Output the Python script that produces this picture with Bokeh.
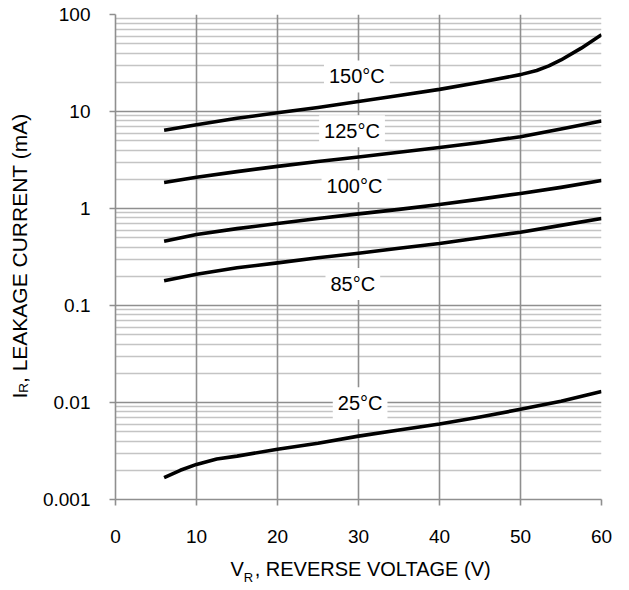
import math
from bokeh.plotting import figure
from bokeh.models import FixedTicker, Grid, Label, LinearAxis, LogAxis
from bokeh.embed import file_html
from bokeh.resources import INLINE

# ---- data ----
x_150 = [6, 10, 15, 20, 25, 30, 35, 40, 45, 50, 52, 53.5, 55, 57.5, 60]
y_150 = [6.4, 7.3, 8.5, 9.7, 11.0, 12.7, 14.6, 16.9, 20.0, 24.0, 26.5, 29.5, 34.0, 45.0, 62.0]

x_125 = [6, 10, 15, 20, 25, 30, 35, 40, 45, 50, 55, 60]
y_125 = [1.85, 2.1, 2.4, 2.72, 3.05, 3.4, 3.8, 4.25, 4.8, 5.5, 6.6, 8.0]

x_100 = [6, 10, 15, 20, 25, 30, 35, 40, 45, 50, 55, 60]
y_100 = [0.46, 0.54, 0.62, 0.70, 0.79, 0.88, 0.98, 1.10, 1.25, 1.43, 1.65, 1.94]

x_85 = [6, 10, 15, 20, 25, 30, 35, 40, 45, 50, 55, 60]
y_85 = [0.18, 0.21, 0.245, 0.275, 0.31, 0.345, 0.39, 0.435, 0.50, 0.57, 0.67, 0.79]

x_25 = [6, 8, 10, 12.5, 15, 20, 25, 30, 35, 40, 45, 50, 55, 60]
y_25 = [0.00168, 0.0020, 0.0023, 0.00262, 0.0028, 0.0033, 0.0038, 0.0045, 0.0052, 0.0060, 0.0071, 0.0085, 0.0103, 0.013]

curve_labels = ["150°C", "125°C", "100°C", "85°C", "25°C"]
label_x = [29.8, 29.2, 29.5, 29.3, 30.2]
label_y = [23.0, 6.26, 1.70, 0.167, 0.0098]

x_ticks = [0, 10, 20, 30, 40, 50, 60]
y_ticks = [0.001, 0.01, 0.1, 1, 10, 100]
y_tick_labels = ["0.001", "0.01", "0.1", "1", "10", "100"]

x_title_main = "V"
x_title_sub = "R"
x_title_rest = ", REVERSE VOLTAGE (V)"
y_title_main = "I"
y_title_sub = "R"
y_title_rest = ", LEAKAGE CURRENT (mA)"

FONT = "Liberation Sans"
MAJOR = "#8f8f8f"
MINOR = "#c4c4c4"

# frame geometry (page pixels)
FL, FR, FT, FB = 115, 601, 14, 499
W, H = 621, 590
p = figure(width=W, height=H, output_backend="svg", toolbar_location=None,
           x_range=(0, 60), y_range=(0.001, 100), y_axis_type="log",
           min_border_left=FL, min_border_right=W - FR, min_border_top=FT, min_border_bottom=H - FB)
p.outline_line_color = None
p.background_fill_color = "white"


def px_to_x(px):
    return round((px - FL) / (FR - FL) * 60.0, 3)


def py_to_y(py):
    return float("%.4g" % (10 ** ((FB - py) / (FB - FT) * 5.0 - 3.0)))


# grids
p.xgrid.visible = False
p.ygrid.visible = False
minor_vals = [d * k for d in y_ticks[:-1] for k in range(2, 10)]
p.add_layout(Grid(dimension=1, ticker=FixedTicker(ticks=minor_vals),
                  grid_line_color=MINOR, grid_line_width=1.6))
p.add_layout(Grid(dimension=1, ticker=FixedTicker(ticks=y_ticks),
                  grid_line_color=MAJOR, grid_line_width=1.6))
p.add_layout(Grid(dimension=0, ticker=FixedTicker(ticks=x_ticks),
                  grid_line_color=MAJOR, grid_line_width=1.6))

# axes
for ax in (p.xaxis[0], p.yaxis[0]):
    ax.axis_line_color = MAJOR
    ax.axis_line_width = 1.6
    ax.major_tick_line_color = MAJOR
    ax.major_tick_line_width = 1.6
    ax.major_tick_out = 6
    ax.major_tick_in = 0
    ax.minor_tick_line_color = None
    ax.major_label_text_font = FONT
    ax.major_label_text_font_size = "19px"
    ax.major_label_text_color = "black"
p.xaxis.ticker = FixedTicker(ticks=x_ticks)
p.xaxis.major_label_standoff = 24
p.yaxis.ticker = FixedTicker(ticks=y_ticks)
p.yaxis.major_label_overrides = {v: s for v, s in zip(y_ticks, y_tick_labels)}
p.yaxis.major_label_standoff = 19

# curves
for xs, ys in [(x_150, y_150), (x_125, y_125), (x_100, y_100), (x_85, y_85), (x_25, y_25)]:
    p.line(xs, ys, line_color="black", line_width=3.6, line_join="round", line_cap="butt")

# curve labels with white boxes
for t, lx, ly in zip(curve_labels, label_x, label_y):
    p.add_layout(Label(x=lx, y=ly, text=t, text_align="center", text_baseline="middle",
                       text_font=FONT, text_font_size="20px", text_color="black",
                       background_fill_color="white", padding=5))


# axis titles with a subscript R, drawn as label-only axes (text outside the frame)
def title_axis(cls, side, ticks, texts, size, standoff, orientation="horizontal"):
    ax = cls(ticker=FixedTicker(ticks=ticks),
             major_label_overrides={t: s for t, s in zip(ticks, texts)},
             axis_line_color=None, major_tick_line_color=None, minor_tick_line_color=None,
             major_tick_out=0, major_tick_in=0,
             major_label_standoff=standoff, major_label_orientation=orientation,
             major_label_text_font=FONT, major_label_text_font_size=size,
             major_label_text_color="black")
    p.add_layout(ax, side)
    return ax


# x title: "V" from page x 230, subscript "R", then the rest
xs_main = [px_to_x(230 + 13.3 / 2), px_to_x(230 + 13.3 + 9.4 + 239 / 2)]
xs_sub = [px_to_x(230 + 13.3 + 9.4 / 2)]
title_axis(LinearAxis, "below", xs_main, [x_title_main, x_title_rest], "20px", 12)
title_axis(LinearAxis, "below", xs_sub, [x_title_sub], "13px", -13)

# y title (reads upward): "I" bottom at page y 398
ys_main = [py_to_y(398 - 5.8 / 2), py_to_y(398 - 5.8 - 9.7 - 269.5 / 2)]
ys_sub = [py_to_y(398 - 5.8 - 9.7 / 2)]
title_axis(LogAxis, "left", ys_main, [y_title_main, y_title_rest], "21px", 8, "parallel")
title_axis(LogAxis, "left", ys_sub, [y_title_sub], "13.5px", -26, "parallel")

open("out.html", "w").write(file_html(p, INLINE))
